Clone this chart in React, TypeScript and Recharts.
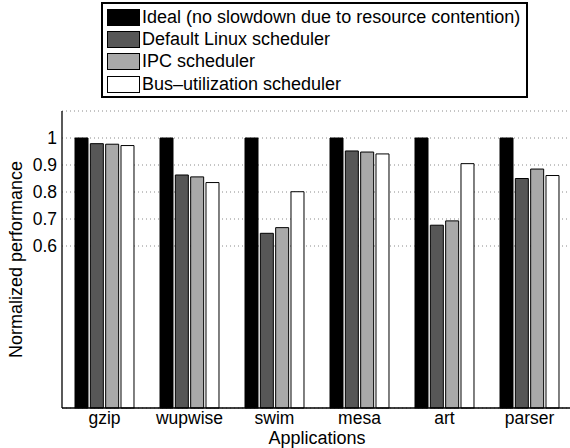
import React from 'react';
import { BarChart, Bar, XAxis, YAxis, CartesianGrid, Legend } from 'recharts';

const categories = ['gzip', 'wupwise', 'swim', 'mesa', 'art', 'parser'];
const ideal = [1, 1, 1, 1, 1, 1];
const defaultLinux = [0.979, 0.863, 0.647, 0.952, 0.677, 0.85];
const ipc = [0.977, 0.856, 0.668, 0.948, 0.693, 0.885];
const busUtil = [0.972, 0.835, 0.801, 0.941, 0.905, 0.861];
const yTicks = [0.6, 0.7, 0.8, 0.9, 1];
const seriesNames = [
  'Ideal (no slowdown due to resource contention)',
  'Default Linux scheduler',
  'IPC scheduler',
  'Bus\u2013utilization scheduler',
];
const seriesKeys = ['ideal', 'defaultLinux', 'ipc', 'busUtil'];
const seriesFills = ['#000000', '#575757', '#a9a9a9', '#ffffff'];

const data = categories.map((name, i) => ({
  name,
  ideal: ideal[i],
  defaultLinux: defaultLinux[i],
  ipc: ipc[i],
  busUtil: busUtil[i],
}));

const FONT = '"Liberation Sans", Arial, Helvetica, sans-serif';
const FS = 18;
const TFS = 17.5;

const renderLegend = () => (
  <div
    style={{
      border: '2px solid #000',
      background: '#fff',
      padding: '2px 6px 1px 4px',
      fontFamily: FONT,
      fontSize: FS,
      color: '#000',
      whiteSpace: 'nowrap',
    }}
  >
    {seriesNames.map((n, i) => (
      <div key={n} style={{ display: 'flex', alignItems: 'center', height: 22.3 }}>
        <div
          style={{
            width: 33,
            height: 17,
            boxSizing: 'border-box',
            border: '1px solid #000',
            background: seriesFills[i],
            marginRight: 2,
          }}
        />
        <span>{n}</span>
      </div>
    ))}
  </div>
);

export default function App() {
  return (
    <div style={{ position: 'absolute', left: 0, top: 0, width: 580, height: 448, background: '#fff' }}>
      <BarChart
        width={580}
        height={448}
        data={data}
        margin={{ top: 111, right: 8, bottom: 0, left: 0 }}
        barSize={13}
        barGap={2.33}
      >
        <CartesianGrid
          xAxisId="b"
          vertical={false}
          stroke="#8a8a8a"
          strokeDasharray="1 3"
        />
        <XAxis
          xAxisId="b"
          dataKey="name"
          height={40}
          tickLine={false}
          axisLine={{ stroke: '#000', strokeWidth: 1.3 }}
          tick={{ fill: '#000', fontSize: TFS, fontFamily: FONT }}
          tickSize={4}
          tickMargin={0}
          interval={0}
          label={{
            value: 'Applications',
            position: 'insideBottom',
            offset: 4,
            style: { fill: '#000', fontSize: FS, fontFamily: FONT },
          }}
        />
        <XAxis
          xAxisId="bt"
          dataKey="name"
          orientation="bottom"
          mirror
          height={0}
          tickSize={5}
          tickLine={{ stroke: '#000' }}
          axisLine={false}
          tickFormatter={() => ''}
          interval={0}
        />
        <XAxis
          xAxisId="t"
          dataKey="name"
          orientation="top"
          height={0}
          mirror
          tickSize={5}
          tickLine={{ stroke: '#000' }}
          axisLine={{ stroke: '#000', strokeWidth: 1.3 }}
          tickFormatter={() => ''}
          interval={0}
        />
        <YAxis
          domain={[0, 1.1]}
          ticks={yTicks}
          width={62}
          tickLine={false}
          tickSize={5}
          tickMargin={0}
          axisLine={{ stroke: '#000', strokeWidth: 1.3 }}
          tick={{ fill: '#000', fontSize: TFS, fontFamily: FONT }}
          tickFormatter={(v: number) => (v === 1 ? '1' : v.toFixed(1))}
          label={{
            value: 'Normalized performance',
            angle: -90,
            position: 'insideLeft',
            offset: 16,
            style: { fill: '#000', fontSize: FS, fontFamily: FONT, textAnchor: 'middle' },
          }}
        />
        <YAxis
          yAxisId="lt"
          orientation="left"
          mirror
          domain={[0, 1.1]}
          ticks={yTicks}
          width={0}
          tickSize={5}
          tickLine={{ stroke: '#000' }}
          axisLine={false}
          tickFormatter={() => ''}
        />
        <YAxis
          yAxisId="r"
          orientation="right"
          domain={[0, 1.1]}
          ticks={yTicks}
          width={0}
          tick={false}
          axisLine={{ stroke: '#000', strokeWidth: 1.3 }}
        />
        <Legend
          layout="vertical"
          align="center"
          verticalAlign="middle"
          wrapperStyle={{ left: 101, top: 2, width: 'auto', height: 'auto' }}
          content={renderLegend}
        />
        {seriesKeys.map((k, i) => (
          <Bar
            key={k}
            xAxisId="b"
            dataKey={k}
            name={seriesNames[i]}
            fill={seriesFills[i]}
            stroke="#000"
            strokeWidth={1}
            isAnimationActive={false}
          />
        ))}
      </BarChart>
    </div>
  );
}
